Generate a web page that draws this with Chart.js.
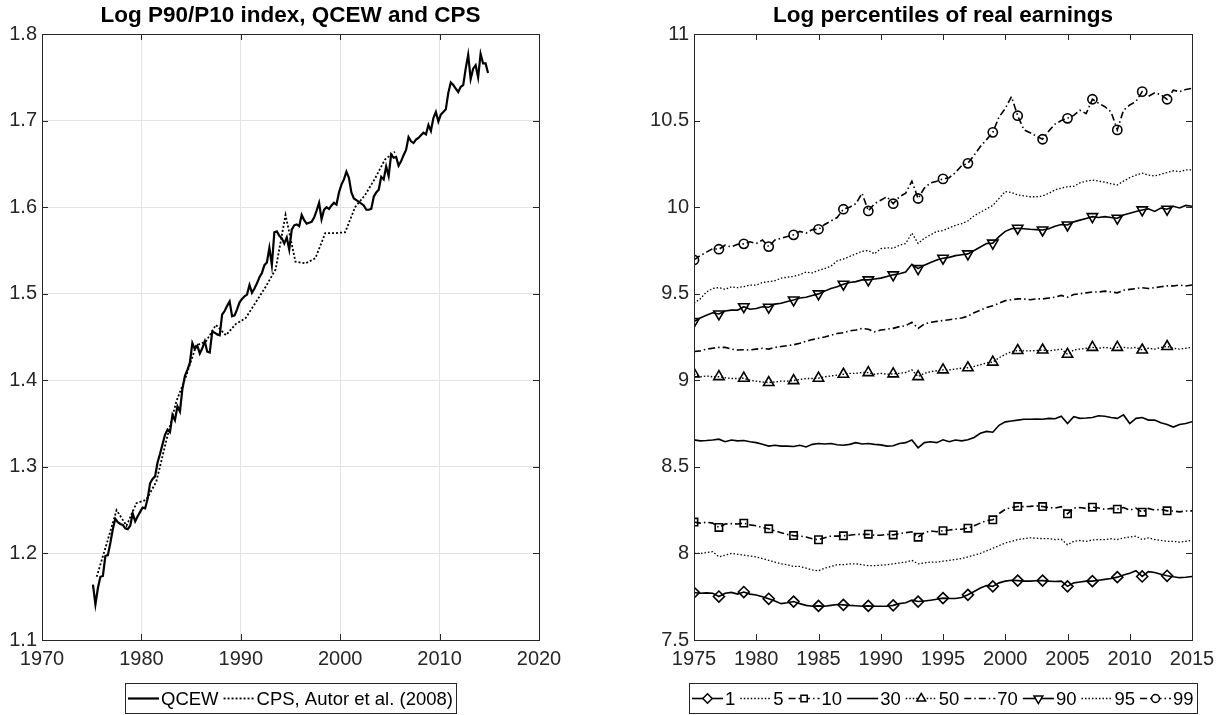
<!DOCTYPE html>
<html>
<head>
<meta charset="utf-8">
<title>Earnings inequality</title>
<script src="https://cdn.jsdelivr.net/npm/chart.js@4.4.1/dist/chart.umd.min.js"></script>
<style>
  html, body { margin: 0; padding: 0; background: #fff; }
  #wrap { position: relative; width: 1225px; height: 715px; }
  canvas { position: absolute; top: 0; }
  #ratioChart { left: 0; }
  #percChart { left: 612px; }
</style>
</head>
<body>
<div id="wrap">
  <canvas id="ratioChart" width="612" height="715"></canvas>
  <canvas id="percChart" width="613" height="715"></canvas>
</div>
<script>
// Log P90/P10, quarterly QCEW from 1975Q1
const qcewStart = 1975.125;
const qcew = [
  1.164, 1.141, 1.160, 1.173, 1.174, 1.197, 1.198, 1.212,
  1.228, 1.240, 1.236, 1.234, 1.233, 1.229, 1.228, 1.232,
  1.246, 1.237, 1.243, 1.248, 1.253, 1.252, 1.263, 1.281,
  1.286, 1.289, 1.305, 1.315, 1.326, 1.337, 1.343, 1.340,
  1.360, 1.354, 1.370, 1.364, 1.390, 1.405, 1.412, 1.420,
  1.443, 1.436, 1.440, 1.431, 1.437, 1.445, 1.433, 1.432,
  1.456, 1.455, 1.453, 1.452, 1.476, 1.480, 1.486, 1.491,
  1.474, 1.475, 1.482, 1.490, 1.494, 1.497, 1.499, 1.510,
  1.501, 1.506, 1.512, 1.519, 1.524, 1.533, 1.536, 1.553,
  1.533, 1.571, 1.572, 1.567, 1.564, 1.558, 1.565, 1.551,
  1.574, 1.579, 1.580, 1.578, 1.591, 1.585, 1.581, 1.582,
  1.583, 1.588, 1.596, 1.605, 1.586, 1.597, 1.600, 1.598,
  1.602, 1.605, 1.603, 1.617, 1.626, 1.632, 1.641, 1.634,
  1.617, 1.610, 1.608, 1.606, 1.604, 1.602, 1.597, 1.597,
  1.598, 1.612, 1.617, 1.620, 1.635, 1.632, 1.647, 1.636,
  1.661, 1.657, 1.658, 1.648, 1.653, 1.660, 1.666, 1.681,
  1.676, 1.674, 1.678, 1.680, 1.683, 1.686, 1.684, 1.695,
  1.688, 1.703, 1.710, 1.699, 1.707, 1.710, 1.713, 1.732,
  1.744, 1.741, 1.737, 1.733, 1.739, 1.741, 1.760, 1.776,
  1.748, 1.760, 1.764, 1.750, 1.777, 1.766, 1.766, 1.755
];

// annual CPS series (Autor et al.), mid-year
const cpsStart = 1975.5;
const cps = [
  1.173, 1.211, 1.250, 1.232, 1.258, 1.262, 1.283, 1.330, 1.375, 1.405,
  1.440, 1.445, 1.464, 1.452, 1.465, 1.472, 1.490, 1.508, 1.528, 1.591,
  1.537, 1.535, 1.541, 1.570, 1.570, 1.571, 1.600, 1.614, 1.633, 1.655,
  1.664
];

// log percentiles, half-yearly from 1975.0 to 2015.0
const pctStart = 1975;
const p1 = [
  7.774, 7.77, 7.772, 7.77, 7.751, 7.77, 7.775, 7.765, 7.777, 7.765,
  7.76, 7.75, 7.738, 7.725, 7.71, 7.715, 7.722, 7.71, 7.70, 7.695,
  7.697, 7.695, 7.70, 7.705, 7.703, 7.70, 7.698, 7.695, 7.697, 7.695,
  7.695, 7.695, 7.70, 7.71, 7.715, 7.73, 7.722, 7.725, 7.73, 7.735,
  7.742, 7.74, 7.74, 7.745, 7.761, 7.78, 7.80, 7.815, 7.81, 7.83,
  7.84, 7.845, 7.843, 7.84, 7.84, 7.842, 7.843, 7.84, 7.838, 7.84,
  7.81, 7.83, 7.835, 7.84, 7.84, 7.845, 7.85, 7.855, 7.863, 7.875,
  7.885, 7.90, 7.867, 7.895, 7.89, 7.88, 7.871, 7.865, 7.86, 7.862,
  7.867
];
const p5 = [
  8.002, 8.0, 8.005, 8.01, 7.98, 7.99, 8.0, 7.995, 7.99, 7.985,
  7.98, 7.97, 7.96, 7.95, 7.94, 7.935, 7.925, 7.925, 7.915, 7.905,
  7.90, 7.915, 7.925, 7.935, 7.935, 7.94, 7.94, 7.935, 7.93, 7.93,
  7.932, 7.935, 7.94, 7.945, 7.95, 7.96, 7.94, 7.945, 7.95, 7.95,
  7.955, 7.96, 7.965, 7.97, 7.98, 7.99, 8.0, 8.015, 8.03, 8.045,
  8.06, 8.07, 8.08, 8.085, 8.09, 8.088, 8.085, 8.085, 8.08, 8.082,
  8.05, 8.07, 8.075, 8.07, 8.078, 8.08, 8.08, 8.085, 8.08, 8.09,
  8.095, 8.10, 8.08, 8.09, 8.08, 8.075, 8.07, 8.07, 8.065, 8.07,
  8.075
];
const p10 = [
  8.181, 8.175, 8.18, 8.175, 8.15, 8.17, 8.172, 8.17, 8.175, 8.165,
  8.16, 8.15, 8.142, 8.13, 8.12, 8.11, 8.103, 8.10, 8.095, 8.085,
  8.079, 8.09, 8.10, 8.10, 8.102, 8.105, 8.11, 8.11, 8.111, 8.105,
  8.105, 8.11, 8.107, 8.115, 8.12, 8.125, 8.094, 8.12, 8.13, 8.125,
  8.131, 8.135, 8.14, 8.14, 8.146, 8.16, 8.175, 8.19, 8.194, 8.23,
  8.255, 8.265, 8.271, 8.27, 8.272, 8.275, 8.271, 8.265, 8.262, 8.27,
  8.229, 8.262, 8.265, 8.26, 8.267, 8.262, 8.255, 8.26, 8.256, 8.265,
  8.25, 8.262, 8.238, 8.26, 8.25, 8.255, 8.246, 8.245, 8.24, 8.245,
  8.246
];
const p30 = [
  8.656, 8.65, 8.652, 8.655, 8.66, 8.645, 8.655, 8.65, 8.652, 8.645,
  8.64, 8.63, 8.62, 8.625, 8.62, 8.62, 8.618, 8.625, 8.615, 8.63,
  8.635, 8.632, 8.635, 8.628, 8.625, 8.63, 8.64, 8.632, 8.635, 8.63,
  8.627, 8.62, 8.622, 8.635, 8.64, 8.655, 8.61, 8.64, 8.645, 8.64,
  8.656, 8.645, 8.655, 8.65, 8.656, 8.67, 8.694, 8.705, 8.70, 8.74,
  8.76, 8.765, 8.77, 8.775, 8.775, 8.776, 8.775, 8.78, 8.778, 8.792,
  8.75, 8.79, 8.78, 8.782, 8.785, 8.795, 8.792, 8.785, 8.78, 8.80,
  8.75, 8.78, 8.785, 8.77, 8.77, 8.755, 8.745, 8.73, 8.745, 8.75,
  8.761
];
const p50 = [
  9.037, 9.02, 9.025, 9.02, 9.021, 9.015, 9.01, 9.01, 9.012, 9.00,
  8.995, 8.99, 8.987, 8.99, 8.995, 8.995, 8.998, 9.005, 9.01, 9.01,
  9.012, 9.02, 9.025, 9.03, 9.035, 9.04, 9.04, 9.045, 9.044, 9.035,
  9.04, 9.035, 9.037, 9.04, 9.045, 9.06, 9.021, 9.04, 9.05, 9.055,
  9.06, 9.06, 9.065, 9.07, 9.072, 9.08, 9.09, 9.10, 9.105, 9.13,
  9.15, 9.165, 9.172, 9.17, 9.17, 9.172, 9.175, 9.17, 9.175, 9.18,
  9.15, 9.175, 9.18, 9.185, 9.19, 9.185, 9.19, 9.185, 9.19, 9.19,
  9.185, 9.19, 9.175, 9.185, 9.18, 9.19, 9.195, 9.185, 9.18, 9.185,
  9.19
];
const p70 = [
  9.166, 9.17, 9.18, 9.185, 9.19, 9.19, 9.18, 9.175, 9.176, 9.175,
  9.18, 9.185, 9.18, 9.19, 9.195, 9.20, 9.205, 9.214, 9.225, 9.235,
  9.243, 9.25, 9.26, 9.27, 9.275, 9.285, 9.29, 9.30, 9.295, 9.28,
  9.29, 9.295, 9.30, 9.31, 9.315, 9.335, 9.30, 9.325, 9.335, 9.34,
  9.345, 9.35, 9.355, 9.36, 9.37, 9.39, 9.405, 9.42, 9.43, 9.445,
  9.46, 9.465, 9.47, 9.47, 9.465, 9.47, 9.47, 9.475, 9.48, 9.49,
  9.48, 9.495, 9.50, 9.505, 9.51, 9.51, 9.515, 9.51, 9.505, 9.52,
  9.525, 9.53, 9.535, 9.53, 9.535, 9.54, 9.545, 9.545, 9.55, 9.545,
  9.55
];
const p90 = [
  9.339, 9.36, 9.375, 9.39, 9.383, 9.40, 9.405, 9.405, 9.425, 9.41,
  9.415, 9.425, 9.422, 9.44, 9.445, 9.455, 9.464, 9.475, 9.48, 9.49,
  9.499, 9.515, 9.53, 9.54, 9.555, 9.565, 9.57, 9.58, 9.58, 9.585,
  9.59, 9.60, 9.609, 9.615, 9.625, 9.67, 9.645, 9.665, 9.68, 9.695,
  9.705, 9.71, 9.72, 9.725, 9.73, 9.75, 9.77, 9.79, 9.792, 9.83,
  9.86, 9.875, 9.878, 9.875, 9.872, 9.87, 9.868, 9.875, 9.89, 9.90,
  9.897, 9.915, 9.925, 9.935, 9.945, 9.94, 9.945, 9.94, 9.936, 9.955,
  9.965, 9.975, 9.984, 9.99, 9.975, 9.995, 9.988, 10.005, 9.995, 10.01,
  10.005
];
const p95 = [
  9.445, 9.47, 9.51, 9.53, 9.535, 9.525, 9.54, 9.535, 9.541, 9.55,
  9.55, 9.565, 9.57, 9.575, 9.59, 9.595, 9.60, 9.61, 9.625, 9.62,
  9.635, 9.645, 9.66, 9.69, 9.70, 9.715, 9.73, 9.745, 9.75, 9.73,
  9.76, 9.765, 9.763, 9.78, 9.79, 9.85, 9.79, 9.82, 9.84, 9.86,
  9.865, 9.88, 9.895, 9.905, 9.92, 9.95, 9.97, 9.99, 10.01, 10.05,
  10.09, 10.085, 10.07, 10.065, 10.06, 10.06, 10.065, 10.08, 10.10, 10.11,
  10.118, 10.12, 10.14, 10.15, 10.157, 10.15, 10.145, 10.135, 10.128, 10.15,
  10.17, 10.185, 10.196, 10.185, 10.18, 10.19, 10.20, 10.21, 10.205, 10.215,
  10.215
];
const p99 = [
  9.695, 9.72, 9.74, 9.76, 9.757, 9.78, 9.77, 9.785, 9.788, 9.80,
  9.79, 9.81, 9.772, 9.81, 9.82, 9.83, 9.84, 9.86, 9.85, 9.87,
  9.872, 9.90, 9.92, 9.94, 9.988, 10.00, 10.02, 10.08, 9.978, 10.02,
  10.04, 10.06, 10.02, 10.06, 10.08, 10.15, 10.05, 10.11, 10.14, 10.15,
  10.163, 10.17, 10.20, 10.24, 10.253, 10.30, 10.35, 10.39, 10.432, 10.52,
  10.57, 10.638, 10.528, 10.446, 10.43, 10.41, 10.392, 10.44, 10.48, 10.50,
  10.513, 10.53, 10.56, 10.54, 10.623, 10.60, 10.58, 10.55, 10.446, 10.56,
  10.59, 10.61, 10.667, 10.64, 10.66, 10.65, 10.623, 10.675, 10.667, 10.68,
  10.686
];

const ratioTicksX = [1970, 2020, 10];
const ratioTicksY = [1.1, 1.8, 0.1];
const pctTicksX = [1975, 2015, 5];
const pctTicksY = [7.5, 11, 0.5];

const FONT = '"Liberation Sans", Arial, Helvetica, sans-serif';
const INK = '#262626';
const GRID = '#e3e3e3';
const DOT = [1.5, 2];
const DASHDOT = [7, 3, 1.5, 3];

const toPoints = (values, start, step) => values.map((v, i) => ({ x: start + i * step, y: v }));

// markers on every 2nd year (every 4th half-year), last one at 2013
const markerEvery = r => ctx => (ctx.dataIndex % 4 === 0 && ctx.dataIndex <= 76 ? r : 0);

// box, inward tick marks, and a legend row under the axis
const matlabAxes = {
  id: 'matlabAxes',
  afterDatasetsDraw(chart) {
    const { ctx, chartArea: a, scales: { x, y } } = chart;
    const len = 6;
    ctx.save();
    ctx.strokeStyle = INK;
    ctx.lineWidth = 1;
    ctx.beginPath();
    x.ticks.forEach(t => {
      const px = Math.round(x.getPixelForValue(t.value)) + 0.5;
      ctx.moveTo(px, a.bottom); ctx.lineTo(px, a.bottom - len);
      ctx.moveTo(px, a.top); ctx.lineTo(px, a.top + len);
    });
    y.ticks.forEach(t => {
      const py = Math.round(y.getPixelForValue(t.value)) + 0.5;
      ctx.moveTo(a.left, py); ctx.lineTo(a.left + len, py);
      ctx.moveTo(a.right, py); ctx.lineTo(a.right - len, py);
    });
    ctx.stroke();
    ctx.strokeRect(Math.round(a.left) + 0.5, Math.round(a.top) + 0.5,
      Math.round(a.right - a.left), Math.round(a.bottom - a.top));
    ctx.restore();
  },
  afterDraw(chart) {
    const { ctx, chartArea: a } = chart;
    const sets = chart.data.datasets;
    const sample = 31, gap = 2, itemGap = 5, pad = 3, top = 683, h = 30;
    ctx.save();
    ctx.font = '18.5px ' + FONT;
    const widths = sets.map(ds => ctx.measureText(ds.label).width);
    const total = pad * 2 + widths.reduce((s, w) => s + sample + gap + w, 0) + itemGap * (sets.length - 1);
    const left = Math.round((a.left + a.right) / 2 - total / 2);
    ctx.fillStyle = '#fff';
    ctx.fillRect(left, top, total, h);
    ctx.strokeStyle = INK;
    ctx.lineWidth = 1;
    ctx.strokeRect(left + 0.5, top + 0.5, Math.round(total), h);
    const cy = top + h / 2 + 0.5;
    let cx = left + pad;
    sets.forEach((ds, i) => {
      ctx.save();
      ctx.strokeStyle = '#000';
      ctx.lineWidth = ds.borderWidth;
      ctx.setLineDash(ds.borderDash || []);
      ctx.beginPath();
      ctx.moveTo(cx, cy); ctx.lineTo(cx + sample, cy);
      ctx.stroke();
      ctx.setLineDash([]);
      if (ds.markerRadius) {
        ctx.fillStyle = '#fff';
        ctx.lineWidth = 1.5;
        Chart.helpers.drawPoint(ctx, {
          pointStyle: ds.pointStyle, rotation: ds.pointRotation || 0,
          radius: ds.markerRadius * 0.85, borderWidth: 1.5
        }, cx + sample / 2, cy);
      }
      ctx.restore();
      ctx.fillStyle = '#000';
      ctx.textBaseline = 'middle';
      ctx.fillText(ds.label, cx + sample + gap, cy + 1);
      cx += sample + gap + widths[i] + itemGap;
    });
    ctx.restore();
  }
};

function axesOptions(opts) {
  const tickFont = { family: FONT, size: 20 };
  return {
    responsive: false,
    animation: false,
    layout: { padding: { left: 0, right: opts.padRight, top: 0, bottom: 0 } },
    elements: { line: { tension: 0 }, point: { hitRadius: 0 } },
    plugins: {
      legend: { display: false },
      tooltip: { enabled: false },
      title: {
        display: true,
        text: opts.title,
        color: '#000',
        fullSize: false,
        font: { family: FONT, size: 22.5, weight: 'bold' },
        padding: { top: 2.5, bottom: 4.5 }
      }
    },
    scales: {
      x: {
        type: 'linear',
        min: opts.x[0], max: opts.x[1],
        afterFit: s => { s.height = 75; },
        ticks: { stepSize: opts.x[2], color: INK, font: tickFont, padding: 7, maxRotation: 0, autoSkip: false, callback: v => String(v) },
        grid: { display: opts.grid, color: GRID, drawTicks: false },
        border: { display: false }
      },
      y: {
        min: opts.y[0], max: opts.y[1],
        afterFit: s => { s.width = opts.yWidth; },
        ticks: { stepSize: opts.y[2], color: INK, font: tickFont, padding: 5, callback: opts.yFormat },
        grid: { display: opts.grid, color: GRID, drawTicks: false },
        border: { display: false }
      }
    }
  };
}

new Chart(document.getElementById('ratioChart'), {
  type: 'line',
  data: {
    datasets: [
      { label: 'QCEW', data: toPoints(qcew, qcewStart, 0.25), borderColor: '#000', borderWidth: 2.2, pointRadius: 0 },
      { label: 'CPS, Autor et al. (2008)', data: toPoints(cps, cpsStart, 1), borderColor: '#000', borderWidth: 1.8, borderDash: [2, 2], pointRadius: 0 }
    ]
  },
  options: axesOptions({
    title: 'Log P90/P10 index, QCEW and CPS',
    x: ratioTicksX, y: ratioTicksY, grid: true,
    yWidth: 42, padRight: 73,
    yFormat: v => v.toFixed(1)
  }),
  plugins: [matlabAxes]
});

const pctSeries = [
  { label: '1', values: p1, dash: [], width: 1.6, style: 'rectRot', r: 5.5 },
  { label: '5', values: p5, dash: DOT, width: 1.3 },
  { label: '10', values: p10, dash: DASHDOT, width: 1.6, style: 'rect', r: 5.2 },
  { label: '30', values: p30, dash: [], width: 1.6 },
  { label: '50', values: p50, dash: DOT, width: 1.4, style: 'triangle', r: 6 },
  { label: '70', values: p70, dash: DASHDOT, width: 1.6 },
  { label: '90', values: p90, dash: [], width: 1.6, style: 'triangle', rot: 180, r: 6 },
  { label: '95', values: p95, dash: DOT, width: 1.3 },
  { label: '99', values: p99, dash: DASHDOT, width: 1.6, style: 'circle', r: 4.6 }
];

new Chart(document.getElementById('percChart'), {
  type: 'line',
  data: {
    datasets: pctSeries.map(s => ({
      label: s.label,
      data: toPoints(s.values, pctStart, 0.5),
      borderColor: '#000',
      borderWidth: s.width,
      borderDash: s.dash,
      pointStyle: s.style || 'circle',
      pointRotation: s.rot || 0,
      markerRadius: s.r || 0,
      pointRadius: markerEvery(s.r || 0),
      pointBorderColor: '#000',
      pointBackgroundColor: 'rgba(0,0,0,0)',
      pointBorderWidth: 1.6
    }))
  },
  options: axesOptions({
    title: 'Log percentiles of real earnings',
    x: pctTicksX, y: pctTicksY, grid: false,
    yWidth: 82, padRight: 33,
    yFormat: v => String(Number(v.toFixed(1)))
  }),
  plugins: [matlabAxes]
});
</script>
</body>
</html>
